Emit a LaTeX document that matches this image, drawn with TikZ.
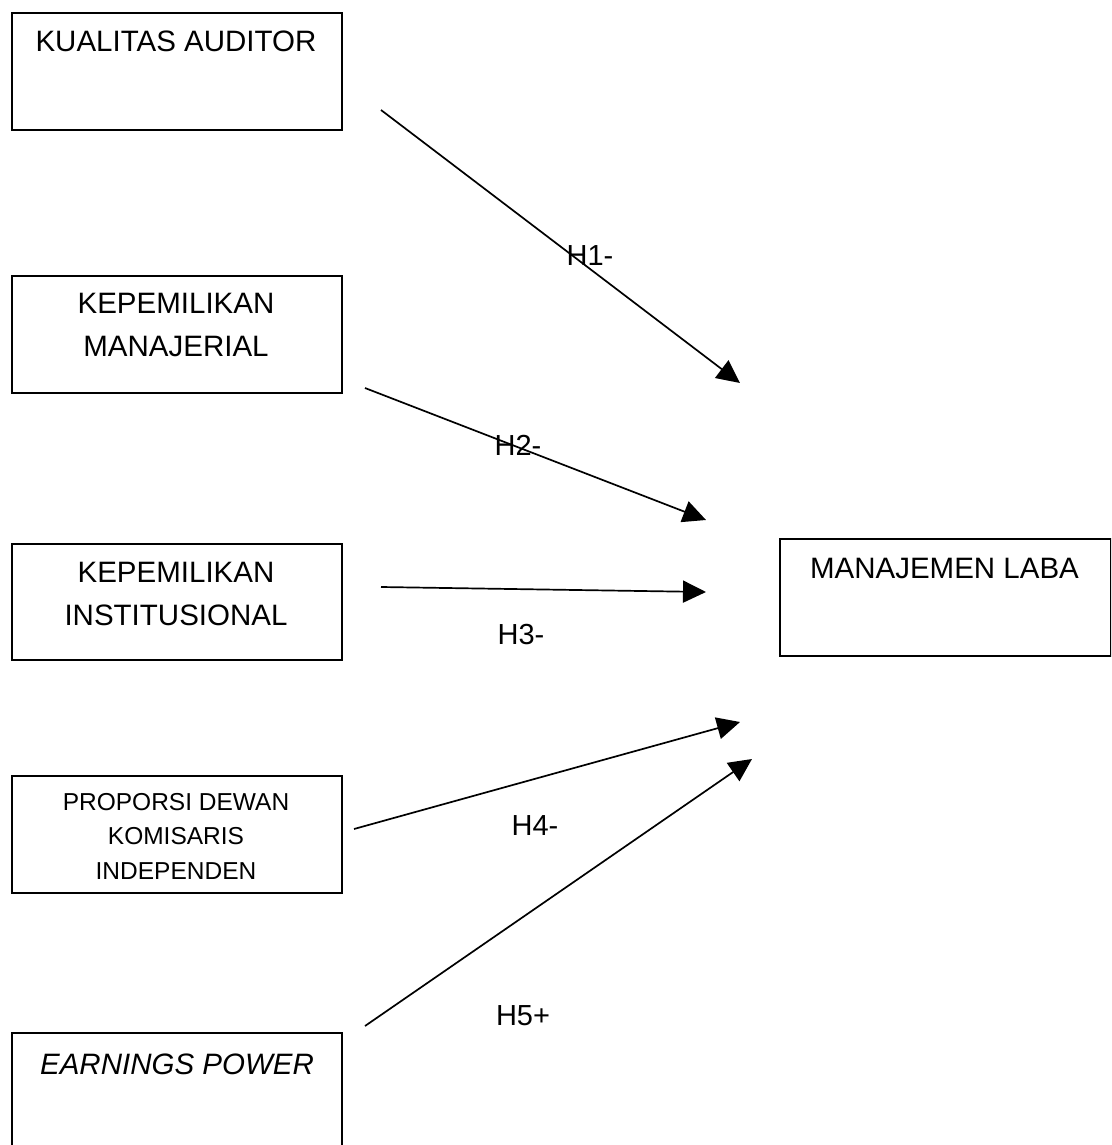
\documentclass[tikz,border=0pt]{standalone}
\usepackage{fontspec}
\setmainfont{Liberation Sans}
\usetikzlibrary{arrows.meta}
\begin{document}
\begin{tikzpicture}[x=1pt,y=-1pt,
  box/.style={draw=black, line width=1.8pt, rectangle, anchor=north west, inner sep=0pt, minimum width=330pt},
  txt/.style={anchor=north, inner sep=0pt, align=center, font=\fontsize{29.5}{43}\selectfont},
  smalltxt/.style={anchor=north, inner sep=0pt, align=center, font=\fontsize{24.5}{34.5}\selectfont},
  hyp/.style={anchor=north, inner sep=0pt, font=\fontsize{29}{35}\selectfont},
  link/.style={line width=1.7pt, -{Triangle[length=23pt,width=22pt]}}]
\clip (0,0) rectangle (1111,1145);
\fill[white] (0,0) rectangle (1111,1145);
% boxes
\node[box, minimum height=117pt] (ka) at (11,12) {};
\node[box, minimum height=117pt] (km) at (11,275) {};
\node[box, minimum height=116pt] (ki) at (11,543) {};
\node[box, minimum height=117pt] (pd) at (11,775) {};
\node[box, minimum height=130pt] (ep) at (11,1032) {};
\node[box, minimum height=117pt, minimum width=331pt] (ml) at (779,538) {};
% box texts
\node[txt] (tka) at (176,31) {KUALITAS AUDITOR};
\node[txt] (tkm) at (176,293) {KEPEMILIKAN\\MANAJERIAL};
\node[txt] (tki) at (176,562) {KEPEMILIKAN\\INSTITUSIONAL};
\node[smalltxt] (tpd) at (176,793) {PROPORSI DEWAN\\KOMISARIS\\INDEPENDEN};
\node[txt] (tep) at (177,1054) {\itshape EARNINGS POWER};
\node[txt] (tml) at (944.5,558) {MANAJEMEN LABA};
% connector ends
\coordinate (s1) at (381,110);
\coordinate (e1) at (740,383);
\coordinate (s2) at (365,388);
\coordinate (e2) at (706,520);
\coordinate (s3) at (381,587);
\coordinate (e3) at (706,592);
\coordinate (s4) at (354,829);
\coordinate (e4) at (740,722);
\coordinate (s5) at (365,1026);
\coordinate (e5) at (752,759);
\draw[link] (s1) -- (e1);
\draw[link] (s2) -- (e2);
\draw[link] (s3) -- (e3);
\draw[link] (s4) -- (e4);
\draw[link] (s5) -- (e5);
% labels
\node[hyp] (h1) at (590,245) {H1-};
\node[hyp] (h2) at (518,435) {H2-};
\node[hyp] (h3) at (521,624) {H3-};
\node[hyp] (h4) at (535,815) {H4-};
\node[hyp] (h5) at (523,1005) {H5+};
\end{tikzpicture}
\end{document}
